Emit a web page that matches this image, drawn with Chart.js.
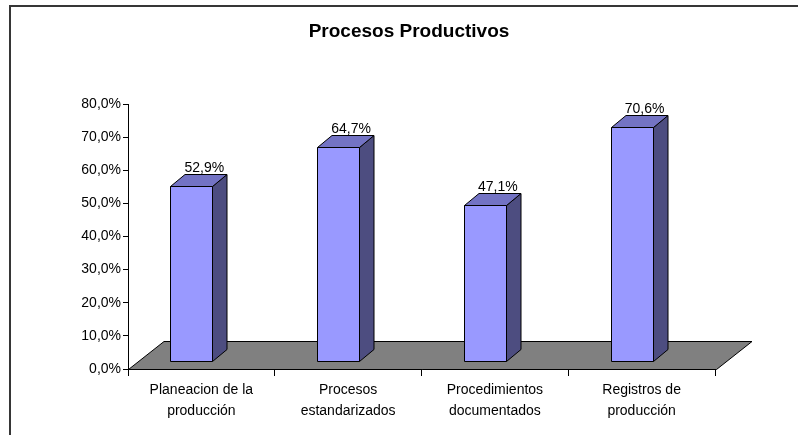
<!DOCTYPE html>
<html>
<head>
<meta charset="utf-8">
<script src="https://cdn.jsdelivr.net/npm/chart.js@4/dist/chart.umd.min.js"></script>
<style>
    html, body { margin: 0; padding: 0; background: #ffffff; }
    canvas { display: block; }
</style>
</head>
<body>
<canvas id="procesosChart" width="798" height="435"></canvas>
<script>
// Chart data
const chartTitle = 'Procesos Productivos';
const categories = [
    ['Planeacion de la', 'producción'],
    ['Procesos', 'estandarizados'],
    ['Procedimientos', 'documentados'],
    ['Registros de', 'producción']
];
const percentValues = [52.9, 64.7, 47.1, 70.6];
const yTicksMin = 0;
const yTicksMax = 80;
const yTicksStep = 10;

const FONT = "'Liberation Sans', Arial, sans-serif";

// 3D look (style only)
const FLOOR_DX = 35.5, FLOOR_DY = -28;
const BAR_SHIFT_X = -10, BAR_SHIFT_Y = -8;
const BAR_DX = 14.5, BAR_DY = -12;

function formatPct(v) {
    return v.toFixed(1).replace('.', ',') + '%';
}

const excel3dPlugin = {
    id: 'excel3d',
    beforeDraw(chart) {
        const ctx = chart.ctx;
        ctx.save();
        ctx.fillStyle = '#ffffff';
        ctx.fillRect(0, 0, chart.width, chart.height);
        // outer frame (only top and left fall inside the picture)
        ctx.fillStyle = '#363636';
        ctx.fillRect(9, 5, chart.width, 2);
        ctx.fillRect(9, 5, 2, chart.height);
        ctx.restore();
    },
    beforeDatasetsDraw(chart) {
        const ctx = chart.ctx;
        const area = chart.chartArea;
        const y0 = Math.round(chart.scales.y.getPixelForValue(0)) + 0.5;
        const xl = area.left + 0.5;
        const xr = area.right + 1.5;
        ctx.save();
        ctx.beginPath();
        ctx.moveTo(xl, y0);
        ctx.lineTo(xr, y0);
        ctx.lineTo(xr + FLOOR_DX, y0 + FLOOR_DY);
        ctx.lineTo(xl + FLOOR_DX, y0 + FLOOR_DY);
        ctx.closePath();
        ctx.fillStyle = '#808080';
        ctx.fill();
        ctx.strokeStyle = '#000000';
        ctx.lineWidth = 1;
        ctx.stroke();
        ctx.restore();
    },
    afterDatasetsDraw(chart) {
        const ctx = chart.ctx;
        const meta = chart.getDatasetMeta(0);
        ctx.save();
        ctx.lineWidth = 1;
        ctx.strokeStyle = '#000000';
        ctx.lineJoin = 'miter';
        meta.data.forEach((bar, i) => {
            const left = Math.round(bar.x - bar.width / 2 + BAR_SHIFT_X) + 0.5;
            const right = Math.round(bar.x + bar.width / 2 + BAR_SHIFT_X) + 0.5;
            const top = Math.round(bar.y + BAR_SHIFT_Y) + 0.5;
            const bottom = Math.round(bar.base + BAR_SHIFT_Y) + 0.5;

            // side face
            ctx.beginPath();
            ctx.moveTo(right, top);
            ctx.lineTo(right + BAR_DX, top + BAR_DY);
            ctx.lineTo(right + BAR_DX, bottom + BAR_DY);
            ctx.lineTo(right, bottom);
            ctx.closePath();
            ctx.fillStyle = '#4d4d80';
            ctx.fill();
            ctx.stroke();

            // top face
            ctx.beginPath();
            ctx.moveTo(left, top);
            ctx.lineTo(left + BAR_DX, top + BAR_DY);
            ctx.lineTo(right + BAR_DX, top + BAR_DY);
            ctx.lineTo(right, top);
            ctx.closePath();
            ctx.fillStyle = '#7373c4';
            ctx.fill();
            ctx.stroke();

            // front face
            ctx.beginPath();
            ctx.rect(left, top, right - left, bottom - top);
            ctx.fillStyle = '#9999ff';
            ctx.fill();
            ctx.stroke();

            // value label
            ctx.fillStyle = '#000000';
            ctx.font = '14px ' + FONT;
            ctx.textAlign = 'center';
            ctx.textBaseline = 'alphabetic';
            ctx.fillText(formatPct(percentValues[i]), bar.x + 3, top + BAR_DY - 3);
        });
        ctx.restore();
    },
    afterDraw(chart) {
        const ctx = chart.ctx;
        ctx.save();
        ctx.fillStyle = '#000000';
        ctx.font = 'bold 19px ' + FONT;
        ctx.textAlign = 'center';
        ctx.textBaseline = 'alphabetic';
        ctx.fillText(chartTitle, 409, 37);
        ctx.restore();
    }
};

const ctx = document.getElementById('procesosChart').getContext('2d');
new Chart(ctx, {
    type: 'bar',
    data: {
        labels: categories,
        datasets: [{
            label: chartTitle,
            data: percentValues,
            backgroundColor: 'rgba(0,0,0,0)',
            borderWidth: 0,
            categoryPercentage: 1,
            barPercentage: 0.286
        }]
    },
    options: {
        responsive: false,
        animation: false,
        devicePixelRatio: 1,
        layout: {
            padding: { left: 10, right: 83, top: 104, bottom: 0 }
        },
        plugins: {
            legend: { display: false },
            title: { display: false },
            tooltip: { enabled: false }
        },
        scales: {
            y: {
                min: yTicksMin,
                max: yTicksMax,
                afterFit(scale) { scale.width = 118; },
                border: { display: true, color: '#000000', width: 1 },
                grid: {
                    drawOnChartArea: false,
                    drawTicks: true,
                    tickLength: 5,
                    color: '#000000'
                },
                ticks: {
                    stepSize: yTicksStep,
                    padding: 2,
                    color: '#000000',
                    font: { family: FONT, size: 14 },
                    callback: (v) => formatPct(v)
                }
            },
            x: {
                afterFit(scale) { scale.height = 66; },
                border: { display: true, color: '#000000', width: 1 },
                grid: {
                    offset: true,
                    drawOnChartArea: false,
                    drawTicks: true,
                    tickLength: 7,
                    color: '#000000'
                },
                ticks: {
                    padding: 4,
                    color: '#000000',
                    maxRotation: 0,
                    autoSkip: false,
                    font: { family: FONT, size: 14, lineHeight: 1.5 }
                }
            }
        }
    },
    plugins: [excel3dPlugin]
});
</script>
</body>
</html>
